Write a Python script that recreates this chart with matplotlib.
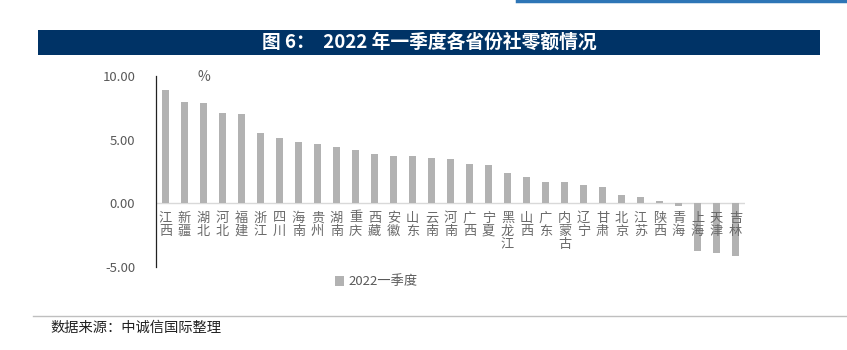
import matplotlib.pyplot as plt
from matplotlib.patches import Rectangle
from matplotlib.lines import Line2D

plt.rcParams['font.family'] = ['Noto Sans CJK SC', 'DejaVu Sans']

provinces = ['江西', '新疆', '湖北', '河北', '福建', '浙江', '四川', '海南', '贵州', '湖南',
             '重庆', '西藏', '安徽', '山东', '云南', '河南', '广西', '宁夏', '黑龙江', '山西',
             '广东', '内蒙古', '辽宁', '甘肃', '北京', '江苏', '陕西', '青海', '上海', '天津',
             '吉林']
growth = [8.88, 7.92, 7.86, 7.10, 6.98, 5.50, 5.10, 4.80, 4.68, 4.40,
          4.20, 3.90, 3.72, 3.72, 3.58, 3.50, 3.10, 3.00, 2.38, 2.08,
          1.68, 1.68, 1.45, 1.30, 0.68, 0.50, 0.20, -0.20, -3.77, -3.87,
          -4.16]
yticks = [-5, 0, 5, 10]
series_name = '2022一季度'

grey_txt = '#595959'
bar_col = '#b2b2b2'

fig = plt.figure(figsize=(8.47, 3.5), dpi=100)

# top blue stripe and title banner
fig.add_artist(Line2D([0.61, 1.0], [0.997, 0.997], color='#2e75b6', lw=2.5))
fig.add_artist(Rectangle((38 / 847, 1 - 55 / 350), (820 - 38) / 847, 25 / 350,
                         facecolor='#003366', edgecolor='none'))
fig.text(0.507, 1 - 42.5 / 350, '图 6：  2022 年一季度各省份社零额情况', color='white',
         fontsize=13.5, fontweight='bold', ha='center', va='center')

ax = fig.add_axes([156 / 847, 1 - 267 / 350, (745 - 156) / 847, (267 - 76) / 350])
x = range(len(provinces))
ax.bar(x, growth, width=0.32, color=bar_col, zorder=2, label=series_name)
ax.axhline(0, color='#d9d9d9', lw=1, zorder=1)
ax.set_xlim(-0.5, len(provinces) - 0.5)
ax.set_ylim(-5, 10)
ax.set_yticks(yticks)
ax.set_yticklabels([f'{v:.2f}' for v in yticks], color=grey_txt, fontsize=9.5)
ax.tick_params(axis='y', length=0, pad=15)
ax.set_xticks([])
for s in ['top', 'right', 'bottom']:
    ax.spines[s].set_visible(False)
ax.spines['left'].set_color('#222222')
ax.spines['left'].set_linewidth(0.9)

for i, name in enumerate(provinces):
    ax.text(i, -0.65, '\n'.join(name), ha='center', va='top', color='#6a6a6a',
            fontsize=9.5, linespacing=1.0, zorder=3)

ax.text(2, 9.9, '%', color=grey_txt, fontsize=10, ha='center', va='center')

ax.legend(loc='center', bbox_to_anchor=(376 / 847, 1 - 282 / 350),
          bbox_transform=fig.transFigure, frameon=False, fontsize=9.5,
          handlelength=0.7, handleheight=0.7, handletextpad=0.3,
          labelcolor=grey_txt)

# footer
fig.add_artist(Line2D([33 / 847, 1.0], [1 - 316 / 350, 1 - 316 / 350],
                      color='#bfbfbf', lw=1))
fig.text(50 / 847, 1 - 328 / 350, '数据来源：中诚信国际整理', color='#222222',
         fontsize=10.3, ha='left', va='center', style='italic')

fig.savefig('out.png', dpi=100)
